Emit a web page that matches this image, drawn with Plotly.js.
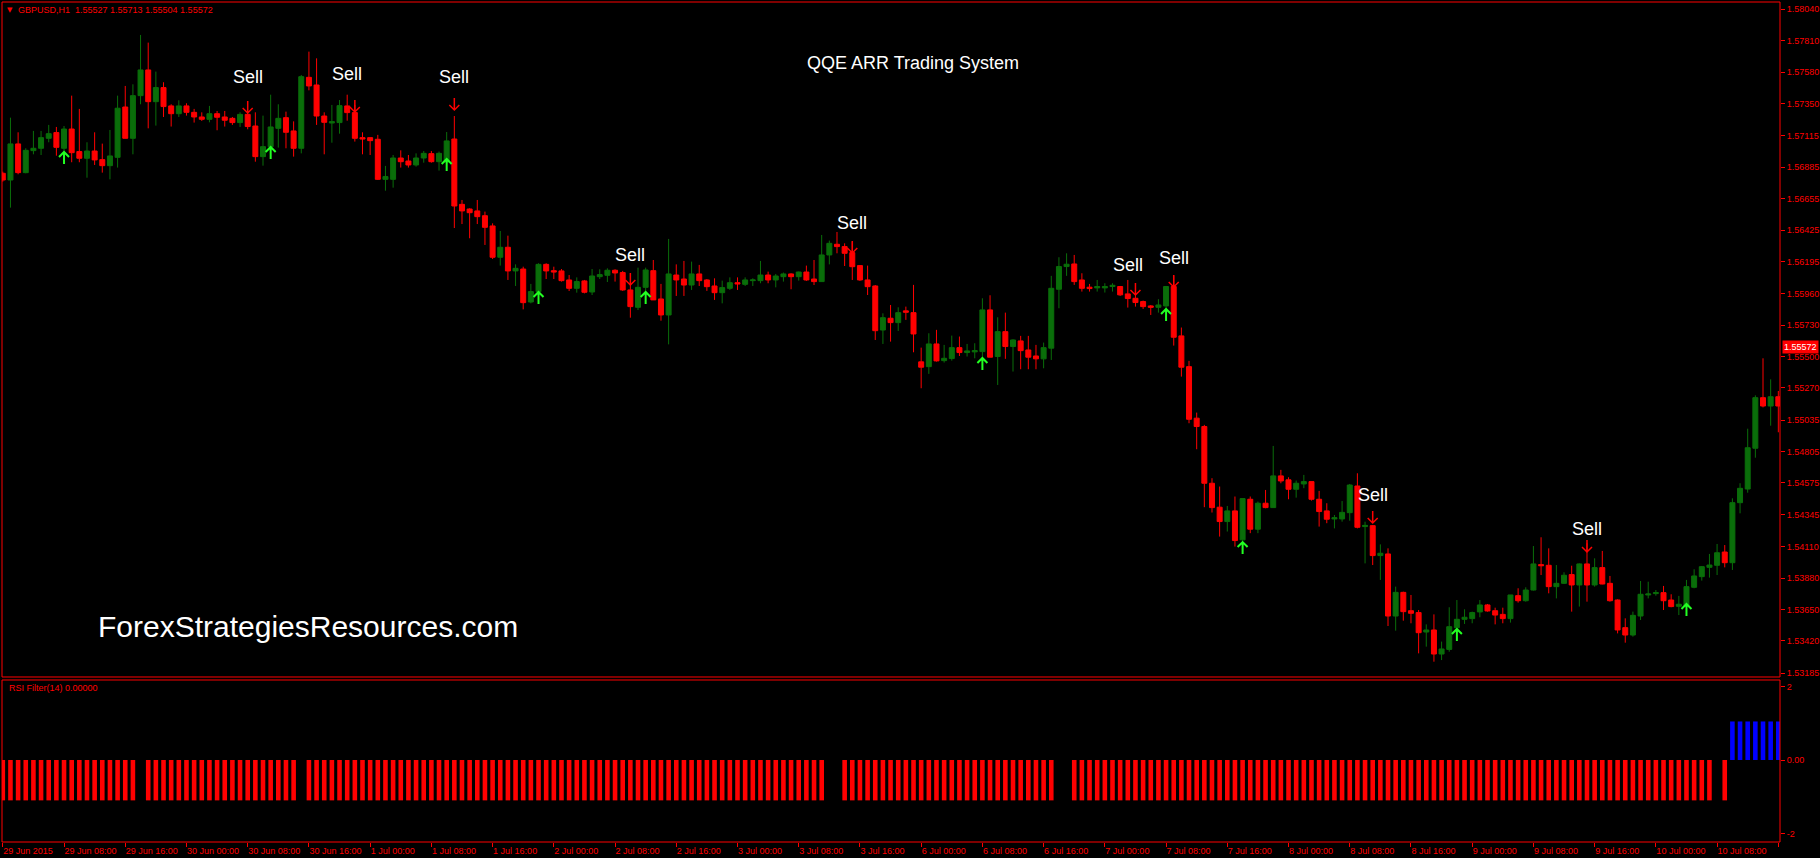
<!DOCTYPE html>
<html><head><meta charset="utf-8">
<script src="https://cdn.plot.ly/plotly-3.0.1.min.js"></script>
<style>html,body{margin:0;padding:0;background:#000;}#chart{width:1820px;height:858px;}</style>
</head><body><div id="chart"></div>
<script>
// ---------------- data ----------------
const symbolName = 'GBPUSD,H1';
const headerOHLC = [1.55527, 1.55713, 1.55504, 1.55572];
const bidPrice = 1.55572;

const openP = [
1.56840,1.56791,1.57055,1.56845,1.57006,1.57023,1.57096,1.57138,1.57023,1.57164,
1.56999,1.56950,1.57003,1.56940,1.56896,1.56957,1.57325,1.57096,1.57408,1.57596,
1.57364,1.57467,1.57333,1.57276,1.57333,1.57286,1.57252,1.57235,1.57276,1.57252,
1.57242,1.57211,1.57271,1.57186,1.56962,1.57035,1.57169,1.57247,1.57150,1.57023,
1.57542,1.57486,1.57259,1.57208,1.57211,1.57333,1.57284,1.57101,1.57101,1.57089,
1.56796,1.56796,1.56952,1.56930,1.56901,1.56952,1.56984,1.56925,1.56923,1.57091,
1.56613,1.56579,1.56565,1.56530,1.56455,1.56226,1.56299,1.56126,1.56140,1.55899,
1.55975,1.56174,1.56128,1.56126,1.56060,1.55999,1.56053,1.55972,1.56084,1.56094,
1.56131,1.56114,1.55987,1.55860,1.56006,1.56128,1.55921,1.55804,1.56096,1.56067,
1.56023,1.56104,1.56060,1.56016,1.55967,1.55999,1.56040,1.56028,1.56055,1.56055,
1.56096,1.56060,1.56084,1.56104,1.56084,1.56118,1.56067,1.56048,1.56243,1.56321,
1.56304,1.56260,1.56165,1.56060,1.56016,1.55694,1.55780,1.55748,1.55834,1.55821,
1.55461,1.55426,1.55592,1.55470,1.55485,1.55565,1.55529,1.55534,1.55536,1.55841,
1.55500,1.55682,1.55573,1.55614,1.55548,1.55504,1.55483,1.55561,1.55992,1.56158,
1.56177,1.56060,1.56007,1.56002,1.56002,1.56012,1.56012,1.55958,1.55926,1.55902,
1.55870,1.55860,1.55870,1.56012,1.55651,1.55426,1.55049,1.54988,1.54573,1.54398,
1.54293,1.54371,1.54159,1.54456,1.54237,1.54427,1.54395,1.54627,1.54598,1.54529,
1.54568,1.54585,1.54456,1.54371,1.54312,1.54312,1.54358,1.54553,1.54256,1.54263,
1.54044,1.54056,1.53602,1.53775,1.53641,1.53627,1.53485,1.53500,1.53324,1.53358,
1.53517,1.53578,1.53583,1.53632,1.53683,1.53641,1.53614,1.53583,1.53751,1.53714,
1.53792,1.53978,1.53973,1.53817,1.53841,1.53905,1.53829,1.53983,1.53829,1.53956,
1.53841,1.53719,1.53517,1.53463,1.53602,1.53756,1.53766,1.53773,1.53719,1.53673,
1.53675,1.53812,1.53890,1.53958,1.53973,1.54070,1.53992,1.54431,1.54531,1.54829,
1.55199,1.55138,1.55206];

const highP = [
1.56852,1.57247,1.57140,1.57023,1.57150,1.57150,1.57194,1.57179,1.57186,1.57408,
1.57311,1.57067,1.57140,1.57057,1.57157,1.57408,1.57479,1.57491,1.57852,1.57796,
1.57584,1.57506,1.57345,1.57374,1.57352,1.57311,1.57286,1.57333,1.57296,1.57296,
1.57252,1.57286,1.57286,1.57286,1.57262,1.57415,1.57345,1.57291,1.57220,1.57559,
1.57730,1.57681,1.57286,1.57340,1.57376,1.57415,1.57340,1.57140,1.57101,1.57121,
1.56894,1.56974,1.57008,1.56974,1.56986,1.57003,1.57003,1.56999,1.57142,1.57259,
1.56645,1.56584,1.56645,1.56560,1.56474,1.56418,1.56384,1.56174,1.56157,1.56031,
1.56182,1.56182,1.56157,1.56140,1.56096,1.56079,1.56060,1.56140,1.56138,1.56145,
1.56138,1.56126,1.56040,1.56150,1.56150,1.56206,1.56031,1.56360,1.56174,1.56199,
1.56194,1.56170,1.56067,1.56072,1.56055,1.56079,1.56079,1.56079,1.56072,1.56199,
1.56121,1.56104,1.56114,1.56109,1.56121,1.56165,1.56206,1.56389,1.56348,1.56411,
1.56328,1.56340,1.56165,1.56165,1.56023,1.55816,1.55877,1.55860,1.55865,1.56024,
1.55565,1.55670,1.55695,1.55585,1.55653,1.55646,1.55592,1.55597,1.55926,1.55948,
1.55787,1.55821,1.55626,1.55651,1.55651,1.55585,1.55602,1.56090,1.56226,1.56255,
1.56243,1.56109,1.56031,1.56060,1.56036,1.56036,1.56016,1.56060,1.55963,1.55909,
1.55877,1.55919,1.56016,1.56092,1.55712,1.55468,1.55090,1.55000,1.54610,1.54549,
1.54407,1.54476,1.54461,1.54476,1.54439,1.54524,1.54846,1.54671,1.54617,1.54593,
1.54634,1.54585,1.54517,1.54427,1.54341,1.54443,1.54568,1.54646,1.54292,1.54268,
1.54126,1.54097,1.53817,1.53780,1.53756,1.53646,1.53541,1.53614,1.53415,1.53666,
1.53719,1.53651,1.53634,1.53719,1.53690,1.53663,1.53663,1.53756,1.53805,1.53812,
1.54114,1.54178,1.54097,1.53975,1.53922,1.53970,1.53987,1.54134,1.54024,1.54078,
1.53895,1.53724,1.53585,1.53634,1.53858,1.53853,1.53792,1.53822,1.53761,1.53749,
1.53866,1.53944,1.53968,1.54056,1.54129,1.54121,1.54463,1.54573,1.54972,1.55216,
1.55487,1.55333,1.55248];

const lowP = [
1.56779,1.56589,1.56833,1.56840,1.56979,1.56974,1.57067,1.56969,1.56962,1.56921,
1.56921,1.56808,1.56901,1.56845,1.56796,1.56882,1.57096,1.56979,1.57345,1.57169,
1.57189,1.57252,1.57182,1.57252,1.57262,1.57211,1.57223,1.57213,1.57155,1.57182,
1.57194,1.57179,1.57162,1.56925,1.56896,1.57023,1.57028,1.57023,1.56962,1.56986,
1.57447,1.57194,1.56979,1.57064,1.57130,1.57225,1.57072,1.56979,1.56974,1.56791,
1.56713,1.56735,1.56882,1.56882,1.56889,1.56918,1.56918,1.56860,1.56901,1.56440,
1.56469,1.56365,1.56469,1.56316,1.56213,1.56165,1.56060,1.56016,1.55845,1.55889,
1.55962,1.56067,1.56067,1.56048,1.55979,1.55967,1.55962,1.55950,1.56067,1.56045,
1.56048,1.55980,1.55784,1.55840,1.55955,1.55914,1.55762,1.55589,1.55943,1.55943,
1.55987,1.56016,1.55980,1.55914,1.55889,1.55987,1.55987,1.56016,1.56016,1.56036,
1.56036,1.56006,1.56048,1.55992,1.56055,1.56053,1.56023,1.56048,1.56174,1.56255,
1.56162,1.56060,1.56053,1.55950,1.55621,1.55592,1.55609,1.55687,1.55768,1.55531,
1.55268,1.55373,1.55463,1.55456,1.55470,1.55504,1.55500,1.55487,1.55475,1.55495,
1.55292,1.55483,1.55390,1.55407,1.55407,1.55407,1.55414,1.55475,1.55853,1.56090,
1.56024,1.55975,1.55975,1.55975,1.55968,1.55975,1.55943,1.55858,1.55865,1.55848,
1.55804,1.55821,1.55853,1.55580,1.55353,1.55012,1.54822,1.54398,1.54359,1.54183,
1.54220,1.54110,1.54098,1.54208,1.54208,1.54390,1.54395,1.54573,1.54456,1.54468,
1.54537,1.54446,1.54256,1.54281,1.54243,1.54292,1.54299,1.54243,1.53987,1.53975,
1.53866,1.53529,1.53495,1.53568,1.53549,1.53329,1.53378,1.53268,1.53280,1.53341,
1.53512,1.53544,1.53549,1.53593,1.53634,1.53541,1.53549,1.53554,1.53700,1.53707,
1.53788,1.53902,1.53768,1.53731,1.53836,1.53634,1.53671,1.53707,1.53817,1.53834,
1.53707,1.53475,1.53407,1.53451,1.53573,1.53731,1.53751,1.53646,1.53666,1.53609,
1.53671,1.53805,1.53861,1.53883,1.53902,1.53958,1.53939,1.54353,1.54504,1.54760,
1.55128,1.54994,1.54946];

const closeP = [
1.56791,1.57055,1.56845,1.57008,1.57023,1.57101,1.57130,1.57030,1.57164,1.56991,
1.56950,1.57003,1.56938,1.56896,1.56967,1.57316,1.57096,1.57408,1.57596,1.57364,
1.57467,1.57328,1.57276,1.57333,1.57286,1.57252,1.57235,1.57276,1.57250,1.57228,
1.57211,1.57271,1.57182,1.56962,1.57035,1.57179,1.57242,1.57140,1.57023,1.57547,
1.57479,1.57259,1.57213,1.57218,1.57335,1.57284,1.57096,1.57091,1.57079,1.56796,
1.56816,1.56952,1.56925,1.56901,1.56952,1.56986,1.56925,1.56986,1.57077,1.56601,
1.56565,1.56552,1.56523,1.56445,1.56226,1.56299,1.56126,1.56145,1.55894,1.55975,
1.56174,1.56126,1.56118,1.56055,1.55999,1.56048,1.55970,1.56089,1.56099,1.56131,
1.56111,1.55987,1.55865,1.56006,1.56133,1.55914,1.55804,1.56104,1.56060,1.56023,
1.56104,1.56055,1.56011,1.55967,1.56004,1.56040,1.56031,1.56060,1.56060,1.56096,
1.56060,1.56089,1.56104,1.56084,1.56118,1.56060,1.56048,1.56243,1.56328,1.56304,
1.56255,1.56157,1.56060,1.56011,1.55689,1.55784,1.55748,1.55821,1.55824,1.55665,
1.55422,1.55592,1.55468,1.55487,1.55565,1.55529,1.55541,1.55543,1.55841,1.55495,
1.55682,1.55573,1.55621,1.55543,1.55495,1.55483,1.55565,1.55999,1.56158,1.56175,
1.56048,1.55999,1.55997,1.56012,1.56012,1.56021,1.55951,1.55924,1.55895,1.55865,
1.55860,1.55877,1.56012,1.55641,1.55422,1.55041,1.54988,1.54573,1.54395,1.54293,
1.54371,1.54154,1.54461,1.54237,1.54427,1.54395,1.54627,1.54590,1.54529,1.54573,
1.54585,1.54456,1.54366,1.54310,1.54321,1.54360,1.54560,1.54251,1.54265,1.54044,
1.54061,1.53602,1.53775,1.53634,1.53622,1.53480,1.53500,1.53324,1.53361,1.53524,
1.53578,1.53593,1.53627,1.53683,1.53639,1.53609,1.53583,1.53756,1.53714,1.53792,
1.53983,1.53970,1.53817,1.53841,1.53900,1.53829,1.53983,1.53829,1.53956,1.53836,
1.53714,1.53500,1.53463,1.53607,1.53761,1.53763,1.53773,1.53714,1.53671,1.53688,
1.53817,1.53895,1.53963,1.53975,1.54065,1.53992,1.54431,1.54536,1.54833,1.55199,
1.55138,1.55206,1.55138];

// RSI Filter(14) histogram
const rsiFilter = [
-1.1,-1.1,-1.1,-1.1,-1.1,-1.1,-1.1,-1.1,-1.1,-1.1,
-1.1,-1.1,-1.1,-1.1,-1.1,-1.1,-1.1,-1.1,0,-1.1,
-1.1,-1.1,-1.1,-1.1,-1.1,-1.1,-1.1,-1.1,-1.1,-1.1,
-1.1,-1.1,-1.1,-1.1,-1.1,-1.1,-1.1,-1.1,-1.1,0,
-1.1,-1.1,-1.1,-1.1,-1.1,-1.1,-1.1,-1.1,-1.1,-1.1,
-1.1,-1.1,-1.1,-1.1,-1.1,-1.1,-1.1,-1.1,-1.1,-1.1,
-1.1,-1.1,-1.1,-1.1,-1.1,-1.1,-1.1,-1.1,-1.1,-1.1,
-1.1,-1.1,-1.1,-1.1,-1.1,-1.1,-1.1,-1.1,-1.1,-1.1,
-1.1,-1.1,-1.1,-1.1,-1.1,-1.1,-1.1,-1.1,-1.1,-1.1,
-1.1,-1.1,-1.1,-1.1,-1.1,-1.1,-1.1,-1.1,-1.1,-1.1,
-1.1,-1.1,-1.1,-1.1,-1.1,-1.1,-1.1,-1.1,0,0,
-1.1,-1.1,-1.1,-1.1,-1.1,-1.1,-1.1,-1.1,-1.1,-1.1,
-1.1,-1.1,-1.1,-1.1,-1.1,-1.1,-1.1,-1.1,-1.1,-1.1,
-1.1,-1.1,-1.1,-1.1,-1.1,-1.1,-1.1,-1.1,0,0,
-1.1,-1.1,-1.1,-1.1,-1.1,-1.1,-1.1,-1.1,-1.1,-1.1,
-1.1,-1.1,-1.1,-1.1,-1.1,-1.1,-1.1,-1.1,-1.1,-1.1,
-1.1,-1.1,-1.1,-1.1,-1.1,-1.1,-1.1,-1.1,-1.1,-1.1,
-1.1,-1.1,-1.1,-1.1,-1.1,-1.1,-1.1,-1.1,-1.1,-1.1,
-1.1,-1.1,-1.1,-1.1,-1.1,-1.1,-1.1,-1.1,-1.1,-1.1,
-1.1,-1.1,-1.1,-1.1,-1.1,-1.1,-1.1,-1.1,-1.1,-1.1,
-1.1,-1.1,-1.1,-1.1,-1.1,-1.1,-1.1,-1.1,-1.1,-1.1,
-1.1,-1.1,-1.1,-1.1,-1.1,-1.1,-1.1,-1.1,-1.1,-1.1,
-1.1,-1.1,-1.1,-1.1,0,-1.1,1.05,1.05,1.05,1.05,
1.05,1.05,1.05];

// signals
const sellBars       = [32, 46, 59, 82, 111, 148, 153, 179, 207];
const sellArrowPrice = [1.57281, 1.57289, 1.57303, 1.56023, 1.56257, 1.55950, 1.56009, 1.54282, 1.54070];
const sellTextBars   = [32, 45, 59, 82, 111, 147, 153, 179, 207];
const sellTextPrice  = [1.57545, 1.57567, 1.57545, 1.56243, 1.56477, 1.56170, 1.56221, 1.54487, 1.54238];
const buyBars        = [8, 35, 58, 70, 84, 128, 152, 162, 190, 220];
const buyArrowPrice  = [1.56996, 1.57033, 1.56945, 1.55972, 1.55972, 1.55489, 1.55848, 1.54143, 1.53507, 1.53690];

// axes
const priceTicks = [1.58040,1.57810,1.57580,1.57350,1.57115,1.56885,1.56655,1.56425,1.56195,1.55960,1.55730,
                    1.55500,1.55270,1.55035,1.54805,1.54575,1.54345,1.54110,1.53880,1.53650,1.53420,1.53185];
const timeTickBars = [0,8,16,24,32,40,48,56,64,72,80,88,96,104,112,120,128,136,144,152,160,168,176,184,192,200,208,216,224,232];
const timeTickLabels = ['29 Jun 2015','29 Jun 08:00','29 Jun 16:00','30 Jun 00:00','30 Jun 08:00','30 Jun 16:00',
  '1 Jul 00:00','1 Jul 08:00','1 Jul 16:00','2 Jul 00:00','2 Jul 08:00','2 Jul 16:00','3 Jul 00:00','3 Jul 08:00',
  '3 Jul 16:00','6 Jul 00:00','6 Jul 08:00','6 Jul 16:00','7 Jul 00:00','7 Jul 08:00','7 Jul 16:00','8 Jul 00:00',
  '8 Jul 08:00','8 Jul 16:00','9 Jul 00:00','9 Jul 08:00','9 Jul 16:00','10 Jul 00:00','10 Jul 08:00','10 Jul 16:00'];
const rsiTicks = [2, 0, -2];
const rsiTickText = ['2', '0.00', '-2'];

// ---------------- drawing ----------------
const RED = '#ff0000', GREEN = '#0a6e0a', LIME = '#22ff22', BLUE = '#0000ff';
const FONT = 'Liberation Sans, Arial, sans-serif';
const idx = openP.map((_, i) => i);
const xRange = [-0.105, 232.22];
const mainDom = [0.19643, 1], rsiDom = [0, 0.19286];

const traces = [
  {type: 'candlestick', x: idx, open: openP, high: highP, low: lowP, close: closeP,
   xaxis: 'x', yaxis: 'y', whiskerwidth: 0, hoverinfo: 'skip',
   increasing: {line: {color: GREEN, width: 1}, fillcolor: GREEN},
   decreasing: {line: {color: RED, width: 1}, fillcolor: RED}},
  {type: 'bar', x: idx, y: rsiFilter, xaxis: 'x2', yaxis: 'y2', width: 0.6,
   marker: {color: rsiFilter.map(v => v > 0 ? BLUE : RED), line: {width: 0}}, hoverinfo: 'skip'}
];

const shapes = [
  {type: 'rect', xref: 'paper', yref: 'paper', x0: 0, x1: 1, y0: mainDom[0], y1: mainDom[1], line: {color: RED, width: 1}},
  {type: 'rect', xref: 'paper', yref: 'paper', x0: 0, x1: 1, y0: rsiDom[0], y1: rsiDom[1], line: {color: RED, width: 1}}
];
sellBars.forEach((b, k) => shapes.push({type: 'path', xref: 'x', yref: 'y',
  xsizemode: 'pixel', ysizemode: 'pixel', xanchor: b, yanchor: sellArrowPrice[k],
  path: 'M0,0 L0,12 M-5,5 L0,0 L5,5', line: {color: RED, width: 1.5}}));
buyBars.forEach((b, k) => shapes.push({type: 'path', xref: 'x', yref: 'y',
  xsizemode: 'pixel', ysizemode: 'pixel', xanchor: b, yanchor: buyArrowPrice[k],
  path: 'M0,0 L0,-12 M-5,-5 L0,0 L5,-5', line: {color: LIME, width: 2}}));

const annotations = [
  {xref: 'paper', yref: 'paper', x: 0, y: 1, xanchor: 'left', yanchor: 'top', xshift: 3, yshift: -2,
   text: '▼', showarrow: false, font: {family: 'DejaVu Sans', size: 7, color: RED}},
  {xref: 'paper', yref: 'paper', x: 0, y: 1, xanchor: 'left', yanchor: 'top', xshift: 14, yshift: -1,
   text: symbolName + '\u00a0\u00a0' + headerOHLC.map(v => v.toFixed(5)).join(' '),
   showarrow: false, font: {family: FONT, size: 9, color: RED}},
  {xref: 'paper', yref: 'paper', x: 0, y: rsiDom[1], xanchor: 'left', yanchor: 'top', xshift: 5, yshift: -1,
   text: 'RSI Filter(14) 0.00000', showarrow: false, font: {family: FONT, size: 9, color: RED}},
  {xref: 'paper', yref: 'paper', x: 0.5124, y: 0.9274, xanchor: 'center', yanchor: 'middle',
   text: 'QQE ARR Trading System', showarrow: false, font: {family: FONT, size: 18, color: '#ffffff'}},
  {xref: 'paper', yref: 'paper', x: 0.1721, y: 0.256, xanchor: 'center', yanchor: 'middle',
   text: 'ForexStrategiesResources.com', showarrow: false, font: {family: FONT, size: 30, color: '#ffffff'}},
  {xref: 'paper', yref: 'y', x: 1, y: bidPrice, xanchor: 'left', yanchor: 'middle', xshift: 2,
   text: bidPrice.toFixed(5), showarrow: false, bgcolor: RED, borderpad: 1,
   font: {family: FONT, size: 9, color: '#ffffff'}}
];
sellTextBars.forEach((b, k) => annotations.push({xref: 'x', yref: 'y', x: b, y: sellTextPrice[k],
  xanchor: 'center', yanchor: 'middle', text: 'Sell', showarrow: false,
  font: {family: FONT, size: 18, color: '#ffffff'}}));

const axisFont = {family: FONT, size: 9, color: RED};
const layout = {
  width: 1820, height: 858,
  margin: {l: 2, r: 40, t: 2, b: 16, pad: 0},
  paper_bgcolor: '#000000', plot_bgcolor: '#000000',
  showlegend: false, hovermode: false,
  boxgap: 0.35, boxgroupgap: 0,
  font: axisFont,
  xaxis: {domain: [0, 1], anchor: 'y', range: xRange, showticklabels: false, ticks: '',
          showgrid: false, zeroline: false, showline: false, rangeslider: {visible: false}, fixedrange: true},
  yaxis: {domain: mainDom, anchor: 'x', side: 'right', range: [1.53156, 1.58093],
          tickmode: 'array', tickvals: priceTicks, ticktext: priceTicks.map(v => v.toFixed(5)),
          ticks: 'outside', ticklen: 4, tickwidth: 1, tickcolor: RED, tickfont: axisFont,
          showgrid: false, zeroline: false, showline: false, fixedrange: true},
  xaxis2: {domain: [0, 1], anchor: 'y2', range: xRange,
           tickmode: 'array', tickvals: timeTickBars, ticktext: timeTickLabels,
           ticks: 'outside', ticklen: 4, tickwidth: 1, tickcolor: RED, tickfont: axisFont,
           ticklabelposition: 'outside right', tickangle: 0,
           showgrid: false, zeroline: false, showline: false, fixedrange: true},
  yaxis2: {domain: rsiDom, anchor: 'x2', side: 'right', range: [-2.234, 2.18],
           tickmode: 'array', tickvals: rsiTicks, ticktext: rsiTickText,
           ticks: 'outside', ticklen: 4, tickwidth: 1, tickcolor: RED, tickfont: axisFont,
           showgrid: false, zeroline: false, showline: false, fixedrange: true},
  shapes: shapes,
  annotations: annotations
};

Plotly.newPlot('chart', traces, layout, {staticPlot: true, displayModeBar: false});
</script>
</body></html>
